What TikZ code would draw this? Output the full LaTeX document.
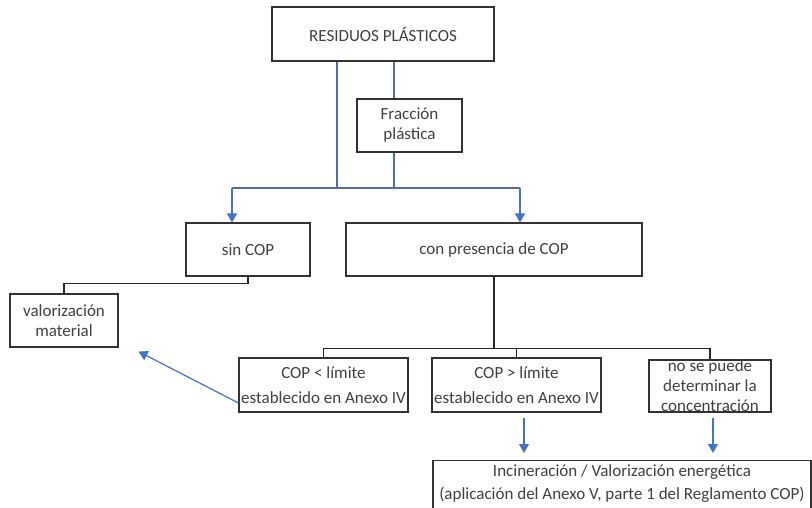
\documentclass[tikz,border=0pt]{standalone}
\usepackage{fontspec}
\setmainfont{Carlito}
\usetikzlibrary{arrows.meta}
\definecolor{txt}{RGB}{64,64,64}
\definecolor{bord}{RGB}{50,50,50}
\definecolor{blu}{RGB}{68,114,196}
\definecolor{blline}{RGB}{80,110,160}
\tikzset{
  box/.style={draw=bord, line width=1.1pt, text=txt, align=center, inner sep=0pt,
    font=\fontsize{17}{20}\selectfont},
  bl/.style={draw=blline, line width=1.2pt},
  bk/.style={draw=black!85, line width=1.3pt},
  arr/.style={draw=blu, line width=1.2pt, -{Triangle[width=10pt,length=9pt]}},
}
\begin{document}
\begin{tikzpicture}[x=1pt,y=-1pt]
\clip (0,0) rectangle (812,508);
\fill[white] (0,0) rectangle (812,508);
\node[box, minimum width=222pt, minimum height=54pt] (res) at (383,34) {RESIDUOS PLÁSTICOS};
\node[box, minimum width=105pt, minimum height=53pt] (frac) at (409.5,125.5) {Fracción\\plástica};
\node[box, minimum width=124pt, minimum height=53pt] (sin) at (248,249.5) {sin COP};
\node[box, minimum width=296pt, minimum height=53pt] (con) at (494,249.5) {con presencia de COP};
\node[box, minimum width=108pt, minimum height=53pt] (val) at (64,320.5) {valorización\\material};
\node[box, minimum width=169pt, minimum height=54pt, font=\fontsize{17}{25}\selectfont] (lt) at (323.5,385) {COP < límite\\establecido en Anexo IV};
\node[box, minimum width=169pt, minimum height=54pt, font=\fontsize{17}{25}\selectfont] (gt) at (516.5,385) {COP > límite\\establecido en Anexo IV};
\node[box, minimum width=122pt, minimum height=52pt] (nd) at (710,386) {no se puede\\determinar la\\concentración};
\node[box, minimum width=378pt, minimum height=60pt, anchor=north, inner ysep=4pt, font=\fontsize{17}{23}\selectfont] (inc) at (622,460) {Incineración / Valorización energética\\(aplicación del Anexo V, parte 1 del Reglamento COP)\\[14pt]};
% top connectors
\coordinate (a) at (232,188);
\coordinate (b) at (520,188);
\coordinate (c1) at (337,188);
\coordinate (c2) at (394,188);
\draw[bl] (res.south -| c1) -- (c1);
\draw[bl] (res.south -| c2) -- (frac.north -| c2);
\draw[bl] (frac.south -| c2) -- (c2);
\draw[bl] (a) -- (b);
\draw[arr] (a) -- (sin.north -| a);
\draw[arr] (b) -- (con.north -| b);
% sin COP -> valorizacion
\draw[bk] (sin.south) -- ++(0,7) -| (val.north);
% con presencia -> three boxes
\draw[bk] (con.south) -- ++(0,72) coordinate (m);
\draw[bk] (lt.north) |- (m) -| (nd.north);
\draw[bk] (gt.north) -- (gt.north |- m);
% arrows
\coordinate (p1) at (524,418);
\coordinate (p2) at (713,418);
\draw[arr] (p1) -- ([yshift=7pt]inc.north -| p1);
\draw[arr] (p2) -- ([yshift=7pt]inc.north -| p2);
\draw[arr] ([yshift=-18pt]lt.west) -- ([xshift=20pt,yshift=-4pt]val.south east);
\end{tikzpicture}
\end{document}
